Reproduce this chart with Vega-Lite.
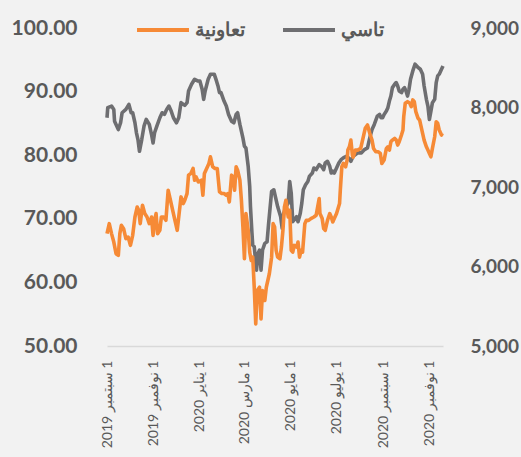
{
  "$schema": "https://vega.github.io/schema/vega-lite/v6.json",
  "width": 336,
  "height": 318,
  "autosize": {"type": "none"},
  "padding": {"left": 107, "top": 28, "right": 78, "bottom": 111},
  "background": "#f2f2f2",
  "config": {
    "view": {"stroke": null},
    "font": "Lato",
    "axis": {"ticks": false, "tickSize": 0, "grid": false, "title": null, "labelColor": "#595959"}
  },
  "datasets": {
    "tasi": [
      {"date": "2019-09-01", "value": 7871}, {"date": "2019-09-02", "value": 7998}, {"date": "2019-09-07", "value": 8018},
      {"date": "2019-09-10", "value": 7976}, {"date": "2019-09-11", "value": 7828}, {"date": "2019-09-16", "value": 7723},
      {"date": "2019-09-19", "value": 7808}, {"date": "2019-09-21", "value": 7934}, {"date": "2019-09-26", "value": 7976},
      {"date": "2019-09-30", "value": 8039}, {"date": "2019-10-03", "value": 7934}, {"date": "2019-10-05", "value": 7934},
      {"date": "2019-10-08", "value": 7808}, {"date": "2019-10-10", "value": 7682}, {"date": "2019-10-12", "value": 7597},
      {"date": "2019-10-14", "value": 7449}, {"date": "2019-10-17", "value": 7597}, {"date": "2019-10-20", "value": 7765},
      {"date": "2019-10-23", "value": 7850}, {"date": "2019-10-27", "value": 7787}, {"date": "2019-10-30", "value": 7660},
      {"date": "2019-11-01", "value": 7555}, {"date": "2019-11-03", "value": 7682}, {"date": "2019-11-06", "value": 7765},
      {"date": "2019-11-10", "value": 7871}, {"date": "2019-11-13", "value": 7934}, {"date": "2019-11-16", "value": 7913},
      {"date": "2019-11-19", "value": 7976}, {"date": "2019-11-22", "value": 8018}, {"date": "2019-11-25", "value": 7955},
      {"date": "2019-11-28", "value": 7871}, {"date": "2019-12-02", "value": 7808}, {"date": "2019-12-05", "value": 7871},
      {"date": "2019-12-08", "value": 8061}, {"date": "2019-12-13", "value": 8027}, {"date": "2019-12-16", "value": 8061},
      {"date": "2019-12-18", "value": 8207}, {"date": "2019-12-22", "value": 8292}, {"date": "2019-12-26", "value": 8355},
      {"date": "2019-12-30", "value": 8334}, {"date": "2020-01-02", "value": 8334}, {"date": "2020-01-05", "value": 8229},
      {"date": "2020-01-07", "value": 8103}, {"date": "2020-01-09", "value": 8207}, {"date": "2020-01-13", "value": 8355},
      {"date": "2020-01-16", "value": 8419}, {"date": "2020-01-21", "value": 8419}, {"date": "2020-01-24", "value": 8334},
      {"date": "2020-01-26", "value": 8271}, {"date": "2020-01-28", "value": 8187}, {"date": "2020-01-30", "value": 8187},
      {"date": "2020-02-03", "value": 8081}, {"date": "2020-02-06", "value": 8018}, {"date": "2020-02-09", "value": 7913},
      {"date": "2020-02-13", "value": 7828}, {"date": "2020-02-16", "value": 7808}, {"date": "2020-02-19", "value": 7913},
      {"date": "2020-02-21", "value": 7934}, {"date": "2020-02-24", "value": 7787}, {"date": "2020-02-26", "value": 7702},
      {"date": "2020-02-28", "value": 7618}, {"date": "2020-03-01", "value": 7512}, {"date": "2020-03-03", "value": 7492},
      {"date": "2020-03-06", "value": 7259}, {"date": "2020-03-08", "value": 7007}, {"date": "2020-03-09", "value": 6754},
      {"date": "2020-03-11", "value": 6418}, {"date": "2020-03-12", "value": 6270}, {"date": "2020-03-14", "value": 6248},
      {"date": "2020-03-17", "value": 5954}, {"date": "2020-03-19", "value": 6165}, {"date": "2020-03-21", "value": 6207},
      {"date": "2020-03-23", "value": 5954}, {"date": "2020-03-25", "value": 6207}, {"date": "2020-03-28", "value": 6291},
      {"date": "2020-03-31", "value": 6311}, {"date": "2020-04-02", "value": 6535}, {"date": "2020-04-06", "value": 6943},
      {"date": "2020-04-09", "value": 6965}, {"date": "2020-04-11", "value": 6880}, {"date": "2020-04-14", "value": 6754},
      {"date": "2020-04-18", "value": 6627}, {"date": "2020-04-20", "value": 6481}, {"date": "2020-04-22", "value": 6670},
      {"date": "2020-04-25", "value": 6754}, {"date": "2020-04-28", "value": 6797}, {"date": "2020-04-30", "value": 7070},
      {"date": "2020-05-02", "value": 6923}, {"date": "2020-05-04", "value": 6564}, {"date": "2020-05-06", "value": 6586},
      {"date": "2020-05-09", "value": 6627}, {"date": "2020-05-11", "value": 6564}, {"date": "2020-05-14", "value": 6670},
      {"date": "2020-05-16", "value": 6797}, {"date": "2020-05-18", "value": 6965}, {"date": "2020-05-21", "value": 7028},
      {"date": "2020-05-24", "value": 7070}, {"date": "2020-05-26", "value": 7133}, {"date": "2020-05-30", "value": 7176},
      {"date": "2020-06-01", "value": 7239}, {"date": "2020-06-04", "value": 7218}, {"date": "2020-06-08", "value": 7281},
      {"date": "2020-06-11", "value": 7260}, {"date": "2020-06-14", "value": 7218}, {"date": "2020-06-16", "value": 7302},
      {"date": "2020-06-19", "value": 7323}, {"date": "2020-06-22", "value": 7260}, {"date": "2020-06-24", "value": 7176},
      {"date": "2020-06-26", "value": 7200}, {"date": "2020-06-28", "value": 7176}, {"date": "2020-07-01", "value": 7239},
      {"date": "2020-07-04", "value": 7302}, {"date": "2020-07-07", "value": 7344}, {"date": "2020-07-10", "value": 7366},
      {"date": "2020-07-14", "value": 7386}, {"date": "2020-07-17", "value": 7366}, {"date": "2020-07-20", "value": 7323},
      {"date": "2020-07-23", "value": 7386}, {"date": "2020-07-26", "value": 7407}, {"date": "2020-07-29", "value": 7429},
      {"date": "2020-08-03", "value": 7429}, {"date": "2020-08-07", "value": 7471}, {"date": "2020-08-11", "value": 7492},
      {"date": "2020-08-14", "value": 7618}, {"date": "2020-08-17", "value": 7723}, {"date": "2020-08-20", "value": 7787},
      {"date": "2020-08-24", "value": 7891}, {"date": "2020-08-27", "value": 7913}, {"date": "2020-08-29", "value": 7871},
      {"date": "2020-08-31", "value": 7871}, {"date": "2020-09-02", "value": 7913}, {"date": "2020-09-05", "value": 7955},
      {"date": "2020-09-07", "value": 7998}, {"date": "2020-09-09", "value": 8081}, {"date": "2020-09-11", "value": 8144},
      {"date": "2020-09-13", "value": 8250}, {"date": "2020-09-16", "value": 8292}, {"date": "2020-09-18", "value": 8314},
      {"date": "2020-09-20", "value": 8271}, {"date": "2020-09-22", "value": 8207}, {"date": "2020-09-25", "value": 8187},
      {"date": "2020-09-27", "value": 8229}, {"date": "2020-09-29", "value": 8250}, {"date": "2020-10-01", "value": 8207},
      {"date": "2020-10-03", "value": 8144}, {"date": "2020-10-05", "value": 8229}, {"date": "2020-10-07", "value": 8355},
      {"date": "2020-10-10", "value": 8460}, {"date": "2020-10-13", "value": 8545}, {"date": "2020-10-17", "value": 8503},
      {"date": "2020-10-20", "value": 8482}, {"date": "2020-10-23", "value": 8419}, {"date": "2020-10-25", "value": 8271},
      {"date": "2020-10-28", "value": 8103}, {"date": "2020-10-30", "value": 8018}, {"date": "2020-11-01", "value": 7850},
      {"date": "2020-11-03", "value": 7955}, {"date": "2020-11-05", "value": 8061}, {"date": "2020-11-08", "value": 8103},
      {"date": "2020-11-10", "value": 8314}, {"date": "2020-11-12", "value": 8397}, {"date": "2020-11-14", "value": 8419},
      {"date": "2020-11-17", "value": 8482}, {"date": "2020-11-19", "value": 8523}
    ],
    "tawuniya": [
      {"date": "2019-09-01", "value": 67.67}, {"date": "2019-09-04", "value": 69.24}, {"date": "2019-09-07", "value": 67.67},
      {"date": "2019-09-10", "value": 66.34}, {"date": "2019-09-13", "value": 64.51}, {"date": "2019-09-16", "value": 64.24},
      {"date": "2019-09-18", "value": 67.67}, {"date": "2019-09-20", "value": 68.97}, {"date": "2019-09-23", "value": 68.45},
      {"date": "2019-09-26", "value": 66.88}, {"date": "2019-09-29", "value": 67.13}, {"date": "2019-10-02", "value": 65.82},
      {"date": "2019-10-05", "value": 67.4}, {"date": "2019-10-08", "value": 70.28}, {"date": "2019-10-11", "value": 71.86},
      {"date": "2019-10-13", "value": 71.34}, {"date": "2019-10-15", "value": 69.24}, {"date": "2019-10-18", "value": 72.13},
      {"date": "2019-10-21", "value": 70.82}, {"date": "2019-10-24", "value": 70.28}, {"date": "2019-10-27", "value": 69.24},
      {"date": "2019-10-30", "value": 70.28}, {"date": "2019-11-01", "value": 67.4}, {"date": "2019-11-03", "value": 69.76},
      {"date": "2019-11-05", "value": 70.82}, {"date": "2019-11-07", "value": 67.67}, {"date": "2019-11-10", "value": 68.19},
      {"date": "2019-11-12", "value": 70.28}, {"date": "2019-11-15", "value": 70.28}, {"date": "2019-11-18", "value": 69.76},
      {"date": "2019-11-21", "value": 74.5}, {"date": "2019-11-24", "value": 72.92}, {"date": "2019-11-27", "value": 71.34},
      {"date": "2019-11-30", "value": 69.76}, {"date": "2019-12-03", "value": 68.19}, {"date": "2019-12-05", "value": 70.28},
      {"date": "2019-12-08", "value": 73.44}, {"date": "2019-12-11", "value": 72.4}, {"date": "2019-12-13", "value": 72.92},
      {"date": "2019-12-16", "value": 73.97}, {"date": "2019-12-18", "value": 76.86}, {"date": "2019-12-21", "value": 77.13},
      {"date": "2019-12-24", "value": 77.92}, {"date": "2019-12-26", "value": 76.07}, {"date": "2019-12-28", "value": 76.59},
      {"date": "2019-12-31", "value": 75.8}, {"date": "2020-01-04", "value": 76.07}, {"date": "2020-01-06", "value": 73.71},
      {"date": "2020-01-08", "value": 77.13}, {"date": "2020-01-11", "value": 77.92}, {"date": "2020-01-14", "value": 78.71},
      {"date": "2020-01-16", "value": 79.75}, {"date": "2020-01-19", "value": 78.17}, {"date": "2020-01-22", "value": 77.92},
      {"date": "2020-01-25", "value": 77.92}, {"date": "2020-01-28", "value": 74.23}, {"date": "2020-01-31", "value": 73.97},
      {"date": "2020-02-03", "value": 73.97}, {"date": "2020-02-06", "value": 73.71}, {"date": "2020-02-08", "value": 73.97},
      {"date": "2020-02-10", "value": 72.65}, {"date": "2020-02-13", "value": 76.86}, {"date": "2020-02-15", "value": 76.59},
      {"date": "2020-02-17", "value": 74.5}, {"date": "2020-02-19", "value": 78.17}, {"date": "2020-02-21", "value": 77.65},
      {"date": "2020-02-24", "value": 76.07}, {"date": "2020-02-26", "value": 72.92}, {"date": "2020-02-28", "value": 68.71},
      {"date": "2020-03-01", "value": 63.72}, {"date": "2020-03-03", "value": 70.82}, {"date": "2020-03-06", "value": 68.19},
      {"date": "2020-03-08", "value": 64.76}, {"date": "2020-03-10", "value": 63.45}, {"date": "2020-03-12", "value": 63.97},
      {"date": "2020-03-14", "value": 59.24}, {"date": "2020-03-16", "value": 53.47}, {"date": "2020-03-18", "value": 58.72},
      {"date": "2020-03-21", "value": 59.24}, {"date": "2020-03-23", "value": 54.26}, {"date": "2020-03-25", "value": 58.72},
      {"date": "2020-03-28", "value": 57.15}, {"date": "2020-03-30", "value": 59.24}, {"date": "2020-04-01", "value": 60.3},
      {"date": "2020-04-03", "value": 61.36}, {"date": "2020-04-06", "value": 63.97}, {"date": "2020-04-08", "value": 69.24},
      {"date": "2020-04-10", "value": 68.71}, {"date": "2020-04-12", "value": 65.03}, {"date": "2020-04-14", "value": 63.97},
      {"date": "2020-04-17", "value": 63.72}, {"date": "2020-04-19", "value": 65.55}, {"date": "2020-04-21", "value": 68.19},
      {"date": "2020-04-23", "value": 71.86}, {"date": "2020-04-25", "value": 72.92}, {"date": "2020-04-28", "value": 70.28},
      {"date": "2020-04-30", "value": 71.34}, {"date": "2020-05-02", "value": 65.03}, {"date": "2020-05-04", "value": 64.76},
      {"date": "2020-05-06", "value": 65.82}, {"date": "2020-05-09", "value": 65.55}, {"date": "2020-05-11", "value": 66.34},
      {"date": "2020-05-13", "value": 63.97}, {"date": "2020-05-15", "value": 65.03}, {"date": "2020-05-17", "value": 64.76},
      {"date": "2020-05-20", "value": 69.24}, {"date": "2020-05-22", "value": 69.76}, {"date": "2020-05-25", "value": 69.76},
      {"date": "2020-05-28", "value": 70.03}, {"date": "2020-06-01", "value": 70.28}, {"date": "2020-06-04", "value": 70.55},
      {"date": "2020-06-08", "value": 73.19}, {"date": "2020-06-09", "value": 70.82}, {"date": "2020-06-12", "value": 70.03},
      {"date": "2020-06-14", "value": 68.45}, {"date": "2020-06-16", "value": 68.19}, {"date": "2020-06-19", "value": 69.76},
      {"date": "2020-06-22", "value": 70.82}, {"date": "2020-06-24", "value": 70.28}, {"date": "2020-06-26", "value": 69.5},
      {"date": "2020-06-28", "value": 70.03}, {"date": "2020-07-01", "value": 70.82}, {"date": "2020-07-03", "value": 71.61},
      {"date": "2020-07-05", "value": 72.4}, {"date": "2020-07-06", "value": 74.5}, {"date": "2020-07-08", "value": 78.17},
      {"date": "2020-07-10", "value": 78.71}, {"date": "2020-07-13", "value": 78.17}, {"date": "2020-07-15", "value": 79.23},
      {"date": "2020-07-16", "value": 80.8}, {"date": "2020-07-18", "value": 81.32}, {"date": "2020-07-20", "value": 82.38},
      {"date": "2020-07-22", "value": 80.02}, {"date": "2020-07-23", "value": 79.7}, {"date": "2020-07-26", "value": 80.8},
      {"date": "2020-07-29", "value": 80.8}, {"date": "2020-08-02", "value": 81.07}, {"date": "2020-08-05", "value": 82.65},
      {"date": "2020-08-08", "value": 84.23}, {"date": "2020-08-11", "value": 84.75}, {"date": "2020-08-14", "value": 83.44},
      {"date": "2020-08-17", "value": 82.38}, {"date": "2020-08-19", "value": 81.07}, {"date": "2020-08-22", "value": 80.54},
      {"date": "2020-08-25", "value": 80.54}, {"date": "2020-08-28", "value": 80.28}, {"date": "2020-08-30", "value": 78.71},
      {"date": "2020-09-02", "value": 79.23}, {"date": "2020-09-05", "value": 81.07}, {"date": "2020-09-07", "value": 81.32},
      {"date": "2020-09-09", "value": 80.8}, {"date": "2020-09-11", "value": 82.11}, {"date": "2020-09-13", "value": 82.38},
      {"date": "2020-09-16", "value": 82.65}, {"date": "2020-09-18", "value": 82.38}, {"date": "2020-09-20", "value": 81.59},
      {"date": "2020-09-22", "value": 82.11}, {"date": "2020-09-25", "value": 83.17}, {"date": "2020-09-27", "value": 83.96},
      {"date": "2020-09-28", "value": 86.06}, {"date": "2020-09-30", "value": 88.17}, {"date": "2020-10-03", "value": 88.42},
      {"date": "2020-10-06", "value": 88.17}, {"date": "2020-10-08", "value": 87.63}, {"date": "2020-10-10", "value": 88.69},
      {"date": "2020-10-12", "value": 88.42}, {"date": "2020-10-14", "value": 86.85}, {"date": "2020-10-17", "value": 85.8},
      {"date": "2020-10-19", "value": 85.54}, {"date": "2020-10-21", "value": 84.48}, {"date": "2020-10-23", "value": 83.44},
      {"date": "2020-10-25", "value": 82.38}, {"date": "2020-10-28", "value": 81.32}, {"date": "2020-10-30", "value": 80.8},
      {"date": "2020-11-01", "value": 80.28}, {"date": "2020-11-03", "value": 79.75}, {"date": "2020-11-05", "value": 81.07},
      {"date": "2020-11-08", "value": 82.9}, {"date": "2020-11-10", "value": 85.27}, {"date": "2020-11-12", "value": 85.02},
      {"date": "2020-11-14", "value": 83.96}, {"date": "2020-11-17", "value": 83.17}, {"date": "2020-11-18", "value": 83.44}
    ]
  },
  "encoding": {
    "x": {
      "field": "date",
      "type": "temporal",
      "scale": {
        "type": "utc",
        "domain": [
          {"year": 2019, "month": 9, "date": 1, "utc": true},
          {"year": 2020, "month": 11, "date": 19, "utc": true}
        ]
      },
      "axis": {
        "values": [
          {"year": 2019, "month": 9, "date": 1, "utc": true},
          {"year": 2019, "month": 11, "date": 1, "utc": true},
          {"year": 2020, "month": 1, "date": 1, "utc": true},
          {"year": 2020, "month": 3, "date": 1, "utc": true},
          {"year": 2020, "month": 5, "date": 1, "utc": true},
          {"year": 2020, "month": 7, "date": 1, "utc": true},
          {"year": 2020, "month": 9, "date": 1, "utc": true},
          {"year": 2020, "month": 11, "date": 1, "utc": true}
        ],
        "labelExpr": "'\u202b1 ' + ['يناير','فبراير','مارس','أبريل','مايو','يونيو','يوليو','أغسطس','سبتمبر','أكتوبر','نوفمبر','ديسمبر'][utcmonth(datum.value)] + ' ' + utcyear(datum.value) + '\u202c'",
        "labelAngle": -90,
        "labelFontSize": 14,
        "labelPadding": 14,
        "labelOverlap": false,
        "labelFlush": false,
        "domainColor": "#d9d9d9",
        "domainWidth": 1.5
      }
    }
  },
  "layer": [
    {
      "data": {"name": "tasi"},
      "mark": {"type": "line", "strokeWidth": 3.6, "strokeJoin": "round"},
      "encoding": {
        "y": {
          "field": "value",
          "type": "quantitative",
          "scale": {"domain": [5000, 9000], "nice": false, "zero": false},
          "axis": {
            "orient": "right",
            "values": [5000, 6000, 7000, 8000, 9000],
            "format": ",.0f",
            "domain": false,
            "labelFontSize": 19,
            "labelFontWeight": "bold",
            "labelPadding": 27
          }
        },
        "color": {
          "datum": "تاسي",
          "type": "nominal",
          "scale": {"domain": ["تعاونية", "تاسي"], "range": ["#F68A36", "#6E6E71"]},
          "legend": {
            "orient": "none",
            "legendX": 28,
            "legendY": -26,
            "direction": "horizontal",
            "symbolType": "stroke",
            "symbolStrokeWidth": 4,
            "symbolSize": 2700,
            "labelFontSize": 19,
            "labelFontWeight": "bold",
            "labelColor": "#595959",
            "labelOffset": 4,
            "columnPadding": 30,
            "padding": 0,
            "title": null
          }
        }
      }
    },
    {
      "data": {"name": "tawuniya"},
      "mark": {"type": "line", "strokeWidth": 3.6, "strokeJoin": "round"},
      "encoding": {
        "y": {
          "field": "value",
          "type": "quantitative",
          "scale": {"domain": [50, 100], "nice": false, "zero": false},
          "axis": {
            "orient": "left",
            "values": [50, 60, 70, 80, 90, 100],
            "format": ".2f",
            "domain": false,
            "labelFontSize": 21,
            "labelFontWeight": "bold",
            "labelPadding": 30
          }
        },
        "color": {"datum": "تعاونية", "type": "nominal"}
      }
    }
  ],
  "resolve": {"scale": {"y": "independent"}}
}
